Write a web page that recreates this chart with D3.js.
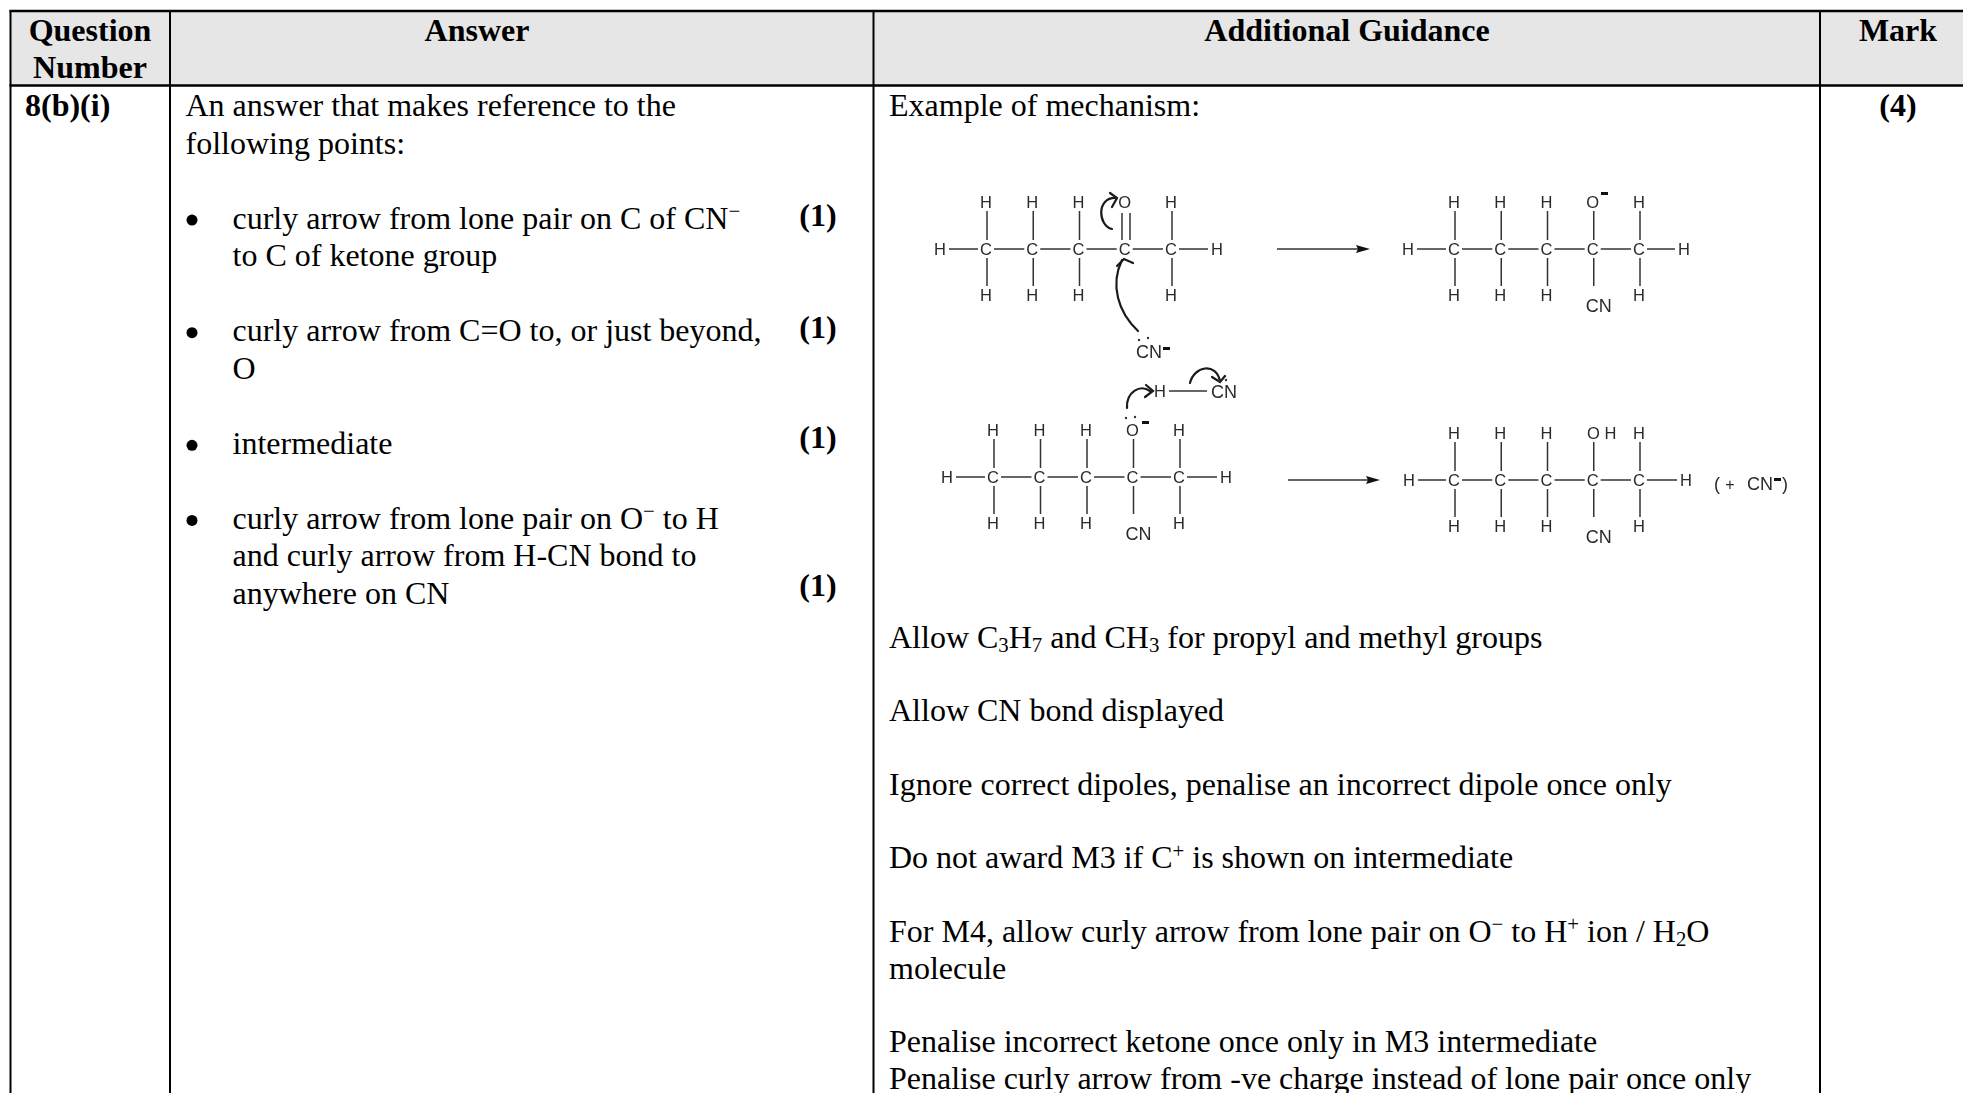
<!DOCTYPE html>
<html>
<head>
<meta charset="utf-8">
<script src="https://cdn.jsdelivr.net/npm/d3@7"></script>
<style>
  html, body { margin: 0; background: #fff; }
  svg { display: block; }
  .serif { font-family: "Liberation Serif", serif; fill: #000; }
  .chem text { font-family: "Liberation Sans", sans-serif; fill: #2a2a2a; }
  .chem { filter: blur(0.4px); }
</style>
</head>
<body>
<script>
// table text. ^x^ is superscript, _x_ is subscript
const headers = ["Question|Number", "Answer", "Additional Guidance", "Mark"]
const questionNumber = "8(b)(i)"
const totalMark = "(4)"
const introLines = ["An answer that makes reference to the", "following points:"]
const bulletLines = [
  ["curly arrow from lone pair on C of CN^−^", "to C of ketone group"],
  ["curly arrow from C=O to, or just beyond,", "O"],
  ["intermediate"],
  ["curly arrow from lone pair on O^−^ to H", "and curly arrow from H-CN bond to", "anywhere on CN"]
]
const bulletStartRows = [3, 6, 9, 11]
const markRows = [2.94, 5.91, 8.84, 12.79]
const markLabels = ["(1)", "(1)", "(1)", "(1)"]
const guidanceTitle = "Example of mechanism:"
const guidanceLines = [
  "Allow C_3_H_7_ and CH_3_ for propyl and methyl groups", "",
  "Allow CN bond displayed", "",
  "Ignore correct dipoles, penalise an incorrect dipole once only", "",
  "Do not award M3 if C^+^ is shown on intermediate", "",
  "For M4, allow curly arrow from lone pair on O^−^ to H^+^ ion / H_2_O",
  "molecule", "",
  "Penalise incorrect ketone once only in M3 intermediate",
  "Penalise curly arrow from -ve charge instead of lone pair once only"
]

// the four displayed formulas, one label per carbon
const topAtoms = [
  ["H", "H", "H", "O", "H"],
  ["H", "H", "H", "O", "H"],
  ["H", "H", "H", "O", "H"],
  ["H", "H", "H", "OH", "H"]
]
const bottomAtoms = [
  ["H", "H", "H", "", "H"],
  ["H", "H", "H", "CN", "H"],
  ["H", "H", "H", "CN", "H"],
  ["H", "H", "H", "CN", "H"]
]

const W = 1963, H = 1093
const colX = [10.5, 170, 873.5, 1820]
const headX = [90, 477, 1347, 1898]
const topY = 11, headY = 85.5
const FS = 32

const svg = d3.select('body').append('svg').attr('width', W).attr('height', H)

const rowLeft = d3.scaleLinear().domain([0, 13]).range([116, 604])
const rowRight = d3.scaleLinear().domain([0, 12]).range([648, 1088.7])

// rich text helper, splits the ^ and _ markup in tspans
function rich(sel, str) {
  const parts = str.split(/(\^[^^]+\^|_[^_]+_)/).filter(s => s !== '')
  let shift = 0
  parts.forEach(p => {
    const sup = p[0] === '^', sub = p[0] === '_'
    const target = sup ? -FS * 0.33 : sub ? FS * 0.12 : 0
    sel.append('tspan')
      .attr('dy', target - shift)
      .attr('font-size', (sup || sub) ? FS * 0.65 : null)
      .text((sup || sub) ? p.slice(1, -1) : p)
    shift = target
  })
}

function line(x, y, str, bold, anchor) {
  const t = svg.append('text').attr('class', 'serif')
    .attr('x', x).attr('y', y)
    .attr('font-size', FS)
    .attr('font-weight', bold ? 'bold' : null)
    .attr('text-anchor', anchor || 'start')
  rich(t, str)
  return t
}

// header and grid, the table runs off the right edge
svg.append('rect').attr('x', colX[0]).attr('y', topY)
  .attr('width', W - colX[0]).attr('height', headY - topY).attr('fill', '#e6e6e6')

svg.selectAll('line.col').data(colX).enter().append('line')
  .attr('class', 'col')
  .attr('x1', d => d).attr('x2', d => d)
  .attr('y1', topY - 1).attr('y2', H)
  .attr('stroke', '#000').attr('stroke-width', 2)

svg.selectAll('line.row').data([topY, headY]).enter().append('line')
  .attr('class', 'row')
  .attr('x1', colX[0] - 1).attr('x2', W)
  .attr('y1', d => d).attr('y2', d => d)
  .attr('stroke', '#000').attr('stroke-width', 2.5)

headers.forEach((h, i) => {
  h.split('|').forEach((s, j) => {
    line(headX[i], 41 + j * 37, s, true, 'middle')
  })
})

// left columns
line(25, rowLeft(0), questionNumber, true)
introLines.forEach((s, i) => line(185.5, rowLeft(i), s))
bulletLines.forEach((lines, i) => {
  const start = bulletStartRows[i]
  svg.append('circle').attr('cx', 192).attr('cy', rowLeft(start) - 8.5).attr('r', 5.5).attr('fill', '#000')
  lines.forEach((s, j) => line(232.5, rowLeft(start + j), s))
})
markLabels.forEach((s, i) => line(818, rowLeft(markRows[i]), s, true, 'middle'))

// right columns
line(889, rowLeft(0), guidanceTitle)
guidanceLines.forEach((s, i) => { if (s) line(889, rowRight(i), s) })
line(1898, rowLeft(0), totalMark, true, 'middle')

// mechanism drawing
const chem = svg.append('g').attr('class', 'chem')
const layouts = [
  {x: [986, 1171], y: 249, l: 940, r: 1217},
  {x: [1454, 1639], y: 249, l: 1408, r: 1684},
  {x: [993, 1179], y: 477, l: 947, r: 1226},
  {x: [1454, 1639], y: 480, l: 1409, r: 1686}
]

function atom(x, y, s, size) {
  chem.append('text').attr('x', x).attr('y', y)
    .attr('font-size', size || 16.5)
    .attr('text-anchor', 'middle')
    .attr('dominant-baseline', 'central')
    .text(s)
}
function bond(x1, y1, x2, y2, w) {
  chem.append('line').attr('x1', x1).attr('y1', y1).attr('x2', x2).attr('y2', y2)
    .attr('stroke', '#333').attr('stroke-width', w || 1.5)
}
function dash(x, y) {
  chem.append('rect').attr('x', x).attr('y', y).attr('width', 7).attr('height', 3).attr('fill', '#111')
}

layouts.forEach((m, k) => {
  const sx = d3.scaleLinear().domain([0, 4]).range(m.x)
  const sy = d3.scaleLinear().domain([-1, 1]).range([m.y - 47, m.y + 46])
  d3.range(5).forEach(i => {
    atom(sx(i), m.y, 'C')
    if (i < 4) bond(sx(i) + 8, m.y, sx(i + 1) - 8, m.y)
    const top = topAtoms[k][i], bot = bottomAtoms[k][i]
    if (!(k === 0 && i === 3)) bond(sx(i) + 1, sy(-1) + 9, sx(i) + 1, m.y - 9)
    if (bot) bond(sx(i) + 1, m.y + 9, sx(i) + 1, sy(1) - 9)
    if (top === 'OH') atom(sx(i) + 9, sy(-1), 'O H')
    else atom(sx(i), sy(-1), top)
    if (bot === 'CN') atom(sx(i) + 6, sy(1) + 11, bot, 18)
    else if (bot) atom(sx(i), sy(1), bot)
  })
  atom(m.l, m.y, 'H')
  atom(m.r, m.y, 'H')
  bond(m.l + 9, m.y, sx(0) - 8, m.y)
  bond(sx(4) + 8, m.y, m.r - 9, m.y)
})

// C=O double bond of the ketone
bond(1122, 213, 1122, 240)
bond(1130, 213, 1130, 240)

// reaction arrows
function arrow(x1, x2, y) {
  bond(x1, y, x2 - 4, y, 1.5)
  chem.append('path').attr('d', `M${x2},${y} L${x2 - 14},${y - 4} L${x2 - 12},${y} L${x2 - 14},${y + 4} Z`).attr('fill', '#111')
}
arrow(1277, 1370, 249)
arrow(1288, 1380, 480)

// curly arrows
function curly(d, head) {
  chem.append('path').attr('d', d).attr('fill', 'none').attr('stroke', '#1a1a1a').attr('stroke-width', 2.2).attr('stroke-linecap', 'round')
  chem.append('path').attr('d', head).attr('fill', 'none').attr('stroke', '#1a1a1a').attr('stroke-width', 2.2).attr('stroke-linecap', 'round')
}
curly('M1112,229 C1098,226 1096,197 1116,198', 'M1110,193 L1117,198 L1112,207')
curly('M1138,331 C1118,312 1110,285 1122,260', 'M1117,266 L1124,259 L1133,263')
curly('M1127,408 C1126,392 1140,384 1150,391', 'M1146,385 L1153,391 L1145,397')
curly('M1190,383 C1194,366 1216,362 1220,381', 'M1212,377 L1220,382 L1225,376')

// CN- and lone pairs
atom(1149, 352, 'CN', 18)
dash(1163, 347)
atom(1160, 391, 'H')
bond(1169, 391, 1207, 391)
atom(1224, 392, 'CN', 18)
dash(1601, 192)
dash(1142, 421)
const dots = [[1139, 340], [1148, 338], [1126, 418], [1135, 417], [1219, 381], [1226, 380]]
chem.selectAll('circle').data(dots).enter().append('circle')
  .attr('cx', d => d[0]).attr('cy', d => d[1]).attr('r', 1.2).attr('fill', '#333')

// (+ CN-) after the last formula
atom(1717, 484, '(', 18)
atom(1730, 484, '+', 16)
atom(1760, 484, 'CN', 18)
dash(1774, 478)
atom(1785, 484, ')', 18)
</script>
</body>
</html>
